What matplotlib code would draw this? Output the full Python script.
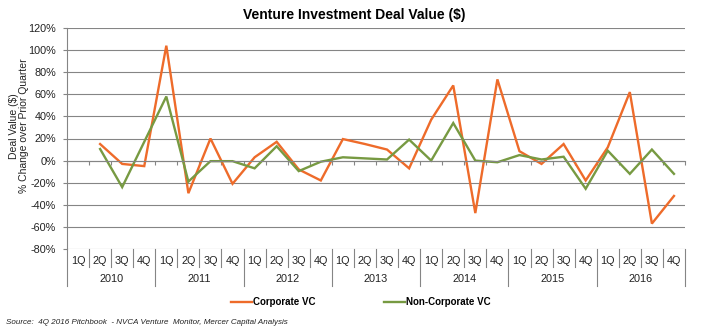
import matplotlib
matplotlib.use("Agg")
import matplotlib.pyplot as plt
import matplotlib.transforms as mtransforms
from matplotlib.lines import Line2D
import numpy as np

plt.rcParams['font.family'] = ['Liberation Sans', 'DejaVu Sans']

years = ['2010', '2011', '2012', '2013', '2014', '2015', '2016']
quarters = ['1Q', '2Q', '3Q', '4Q']

# % change over prior quarter (None = no value)
corporate_vc = [None, 15, -3, -5,
                104, -29.5, 20, -21,
                3, 17, -8, -18,
                19.5, 15, 10, -7,
                37, 68, -47.5, 73.5,
                8.5, -3, 15, -18,
                12, 62, -57, -32]
non_corporate_vc = [None, 10.5, -24, 17,
                    58, -19, -0.5, -0.5,
                    -7, 13, -9.5, -1,
                    3, 2, 1, 19,
                    0, 34, 0, -1.5,
                    5, 1, 3.5, -25.5,
                    9, -12, 10, -12]

yticks = list(range(-80, 121, 20))

orange = '#EE6B2A'
green = '#779A42'
gray = '#858585'
txt = '#222222'

W, H = 705, 332
fig = plt.figure(figsize=(W / 100, H / 100), dpi=100)
L, R, T, B = 67, 685, 28, 249
ax = fig.add_axes([L / W, 1 - B / H, (R - L) / W, (B - T) / H])

n = len(years) * len(quarters)
x = np.arange(n)
cv = np.array([np.nan if v is None else v for v in corporate_vc], dtype=float)
nv = np.array([np.nan if v is None else v for v in non_corporate_vc], dtype=float)

l1, = ax.plot(x, cv, color=orange, lw=1.7, label='Corporate VC', solid_joinstyle='miter')
l2, = ax.plot(x, nv, color=green, lw=1.7, label='Non-Corporate VC', solid_joinstyle='miter')

ax.set_xlim(-0.5, n - 0.5)
ax.set_ylim(-80, 120)
ax.set_yticks(yticks)
ax.set_yticklabels([f'{v}%' for v in yticks], fontsize=7.8, color=txt)
ax.yaxis.grid(True, color=gray, lw=0.8)
ax.set_axisbelow(True)
for s in ['top', 'right']:
    ax.spines[s].set_visible(False)
ax.spines['left'].set_color(gray)
ax.spines['left'].set_linewidth(0.8)
ax.spines['bottom'].set_position(('data', 0))
ax.spines['bottom'].set_color(gray)
ax.spines['bottom'].set_linewidth(0.8)
ax.tick_params(axis='y', length=3, color=gray, width=0.8, pad=5)
ax.set_xticks(np.arange(n + 1) - 0.5)
ax.set_xticklabels([])
ax.tick_params(axis='x', length=3, color=gray, width=0.8, direction='out')

# category table below plot
trans = mtransforms.blended_transform_factory(ax.transData, ax.transAxes)
ph = B - T
q_bot = -(267 - B) / ph
y_bot = -(286 - B) / ph
q_lab = -(261.5 - B) / ph
y_lab = -(279.5 - B) / ph
for i in range(n + 1):
    xb = i - 0.5
    bottom = y_bot if i % 4 == 0 else q_bot
    ax.add_line(Line2D([xb, xb], [0, bottom], transform=trans, color=gray,
                       lw=0.8, clip_on=False))
for i in range(n):
    ax.text(i, q_lab, quarters[i % 4], transform=trans, ha='center', va='center',
            fontsize=7.8, color=txt)
for j, yr in enumerate(years):
    ax.text(j * 4 + 1.5, y_lab, yr, transform=trans, ha='center', va='center',
            fontsize=7.8, color=txt)

fig.text(354 / W, 1 - 15 / H, 'Venture Investment Deal Value ($)', ha='center',
         va='center', fontsize=10, fontweight='bold')
fig.text(19 / W, 1 - 126 / H, 'Deal Value ($)\n% Change over Prior Quarter',
         rotation=90, ha='center', va='center', fontsize=7.5, color=txt,
         multialignment='center', linespacing=1.1)

leg = fig.legend(handles=[l1, l2], loc='center', bbox_to_anchor=(361 / W, 1 - 302 / H),
                 ncol=2, frameon=False, handlelength=2.2, handletextpad=0.1,
                 columnspacing=7.0, prop={'size': 7, 'weight': 'bold'})

fig.text(6 / W, 1 - 322 / H,
         'Source:  4Q 2016 Pitchbook  - NVCA Venture  Monitor, Mercer Capital Analysis',
         ha='left', va='center', fontsize=5.8, style='italic', color=txt)

fig.savefig('out.png', dpi=100)
